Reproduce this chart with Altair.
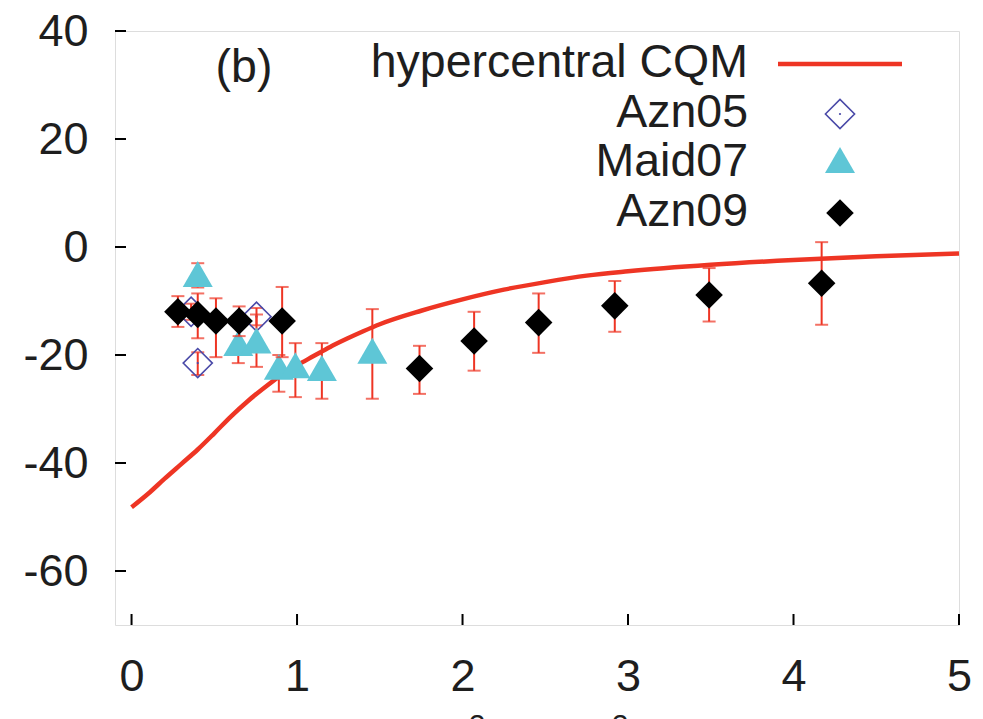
import altair as alt
import pandas as pd

# ---------------- data ----------------
curve_q = [0.0, 0.1, 0.2, 0.3, 0.4, 0.5, 0.6, 0.7, 0.8, 0.9, 1.0, 1.1, 1.2, 1.3, 1.4,
           1.5, 1.75, 2.0, 2.25, 2.5, 2.75, 3.0, 3.5, 4.0, 4.5, 5.0]
curve_y = [-48.2, -45.7, -42.9, -40.2, -37.5, -34.5, -31.4, -28.6, -26.1, -23.8, -21.9,
           -20.2, -18.5, -17.0, -15.6, -14.3, -11.8, -9.7, -7.9, -6.5, -5.3, -4.5,
           -3.3, -2.4, -1.7, -1.2]

azn05_q = [0.36, 0.40, 0.755]
azn05_y = [-12.0, -21.5, -12.9]
azn05_lo = [-13.5, -23.7, -14.5]
azn05_hi = [-10.5, -19.5, -11.3]

maid07_q = [0.40, 0.645, 0.755, 0.89, 0.99, 1.15, 1.455]
maid07_y = [-5.0, -17.8, -17.3, -22.2, -21.9, -22.4, -19.2]
maid07_lo = [-7.5, -21.5, -22.2, -26.8, -27.8, -28.1, -28.1]
maid07_hi = [-3.0, -14.0, -12.5, -20.0, -17.8, -17.8, -11.5]

azn09_q = [0.28, 0.40, 0.51, 0.65, 0.91, 1.74, 2.07, 2.46, 2.92, 3.49, 4.17]
azn09_y = [-12.0, -12.5, -13.7, -13.7, -13.7, -22.5, -17.4, -14.0, -10.9, -8.9, -6.7]
azn09_lo = [-14.8, -16.9, -20.4, -16.5, -20.4, -27.2, -22.9, -19.6, -15.7, -13.8, -14.4]
azn09_hi = [-9.1, -8.6, -9.5, -11.0, -7.4, -18.3, -12.0, -8.6, -6.3, -3.9, 0.9]

x_ticks = [0, 1, 2, 3, 4, 5]
y_ticks = [40, 20, 0, -20, -40, -60]

legend_labels = ["hypercentral CQM", "Azn05", "Maid07", "Azn09"]
title_parts = ["Q", "2", " (GeV", "2", ")"]

# ---------------- style ----------------
FONT = "Liberation Sans"
FS = 45
FS_KEY = 46.5
RED = "#ee3524"
CYAN = "#5ec6d6"
BLUE = "#4a4aa8"
TXT = "#1e1e1e"
W, H = 844, 594

xscale = alt.Scale(domain=[-0.1, 5], nice=False, zero=False)
yscale = alt.Scale(domain=[-70, 40], nice=False, zero=False)
xaxis = alt.Axis(values=x_ticks, title=None, ticks=False, domain=False, grid=False,
                 labelFontSize=FS, labelPadding=29, labelFlush=False, labelOverlap=False,
                 labelExpr="'' + datum.value", labelColor=TXT, labelFont=FONT)
yaxis = alt.Axis(values=y_ticks, title=None, ticks=False, domain=False, grid=False,
                 labelFontSize=FS, labelPadding=27, labelFlush=False, labelOverlap=False,
                 labelExpr="'' + datum.value", labelColor=TXT, labelFont=FONT)


def X(field):
    return alt.X(field, type="quantitative", scale=xscale, axis=xaxis)


def Y(field):
    return alt.Y(field, type="quantitative", scale=yscale, axis=yaxis)


curve_df = pd.DataFrame({"q": curve_q, "y": curve_y})
a05 = pd.DataFrame({"q": azn05_q, "y": azn05_y, "lo": azn05_lo, "hi": azn05_hi})
m07 = pd.DataFrame({"q": maid07_q, "y": maid07_y, "lo": maid07_lo, "hi": maid07_hi})
a09 = pd.DataFrame({"q": azn09_q, "y": azn09_y, "lo": azn09_lo, "hi": azn09_hi})
xt = pd.DataFrame({"v": x_ticks})
yt = pd.DataFrame({"v": y_ticks})

layers = []

# inward ticks
layers.append(alt.Chart(xt).mark_rule(color="black", strokeWidth=2).encode(
    x=X("v"), y=alt.value(H), y2=alt.value(H - 11)))
layers.append(alt.Chart(yt).mark_rule(color="black", strokeWidth=2).encode(
    y=Y("v"), x=alt.value(0), x2=alt.value(11)))

# model curve
layers.append(alt.Chart(curve_df).mark_line(color=RED, strokeWidth=4.5,
                                             interpolate="monotone").encode(
    x=X("q"), y=Y("y")))


def errorbars(df):
    base = alt.Chart(df)
    return [
        base.mark_rule(color=RED, strokeWidth=2).encode(x=X("q"), y=Y("lo"), y2="hi"),
        base.mark_tick(color=RED, thickness=2, size=13, orient="horizontal").encode(x=X("q"), y=Y("lo")),
        base.mark_tick(color=RED, thickness=2, size=13, orient="horizontal").encode(x=X("q"), y=Y("hi")),
    ]


# Azn05
layers += errorbars(a05)
layers.append(alt.Chart(a05).mark_point(shape="diamond", filled=False, color=BLUE,
                                         strokeWidth=1.6, size=850, opacity=1).encode(x=X("q"), y=Y("y")))
layers.append(alt.Chart(a05).mark_point(shape="circle", filled=True, color=BLUE,
                                         size=5, opacity=1).encode(x=X("q"), y=Y("y")))
# Maid07
layers += errorbars(m07)
layers.append(alt.Chart(m07).mark_point(shape="triangle-up", filled=True, color=CYAN,
                                         size=900, opacity=1).encode(x=X("q"), y=Y("y")))
# Azn09
layers += errorbars(a09)
layers.append(alt.Chart(a09).mark_point(shape="diamond", filled=True, color="black",
                                         size=760, opacity=1).encode(x=X("q"), y=Y("y")))

# panel label
layers.append(alt.Chart(pd.DataFrame({"t": ["(b)"]})).mark_text(
    font=FONT, fontSize=FS_KEY, color=TXT, align="center", baseline="middle").encode(
    text="t:N", x=alt.value(129), y=alt.value(37)))

# x-axis title, mostly below the visible page (only superscript tips show)
title_x = [354, 362, 497, 505, 514]
title_y = [720, 704, 720, 704, 720]
title_sz = [FS, 30, FS, 30, FS]
title_al = ["right", "center", "right", "center", "left"]
for part, tx, ty, sz, al in zip(title_parts, title_x, title_y, title_sz, title_al):
    layers.append(alt.Chart(pd.DataFrame({"t": [part]})).mark_text(
        font=FONT, fontSize=sz, color=TXT, align=al, baseline="alphabetic").encode(
        text="t:N", x=alt.value(tx), y=alt.value(ty)))

# key (labels left, samples right)
row_y = [32, 82, 131, 181]
txt_right = 633
sym_x = 725
for lab, ry in zip(legend_labels, row_y):
    layers.append(alt.Chart(pd.DataFrame({"t": [lab]})).mark_text(
        font=FONT, fontSize=FS_KEY, color=TXT, align="right", baseline="middle").encode(
        text="t:N", x=alt.value(txt_right), y=alt.value(ry)))

one = pd.DataFrame({"t": [0]})
layers.append(alt.Chart(one).mark_rule(color=RED, strokeWidth=4.5).encode(
    x=alt.value(663), x2=alt.value(787), y=alt.value(33)))
layers.append(alt.Chart(one).mark_point(
    shape="diamond", filled=False, color=BLUE, strokeWidth=1.6, size=850, opacity=1).encode(
    x=alt.value(sym_x), y=alt.value(83)))
layers.append(alt.Chart(one).mark_point(
    shape="circle", filled=True, color=BLUE, size=5, opacity=1).encode(
    x=alt.value(sym_x), y=alt.value(83)))
layers.append(alt.Chart(one).mark_point(
    shape="triangle-up", filled=True, color=CYAN, size=900, opacity=1).encode(
    x=alt.value(sym_x), y=alt.value(129)))
layers.append(alt.Chart(one).mark_point(
    shape="diamond", filled=True, color="black", size=760, opacity=1).encode(
    x=alt.value(sym_x), y=alt.value(182)))

chart = alt.layer(*layers).properties(
    width=W, height=H,
    padding={"left": 115, "top": 31, "right": 24, "bottom": 94},
    autosize=alt.AutoSizeParams(type="none"),
).configure_view(stroke="black", strokeWidth=2).configure(background="white")

chart.save("out.html", embed_options={"renderer": "svg", "actions": False})
